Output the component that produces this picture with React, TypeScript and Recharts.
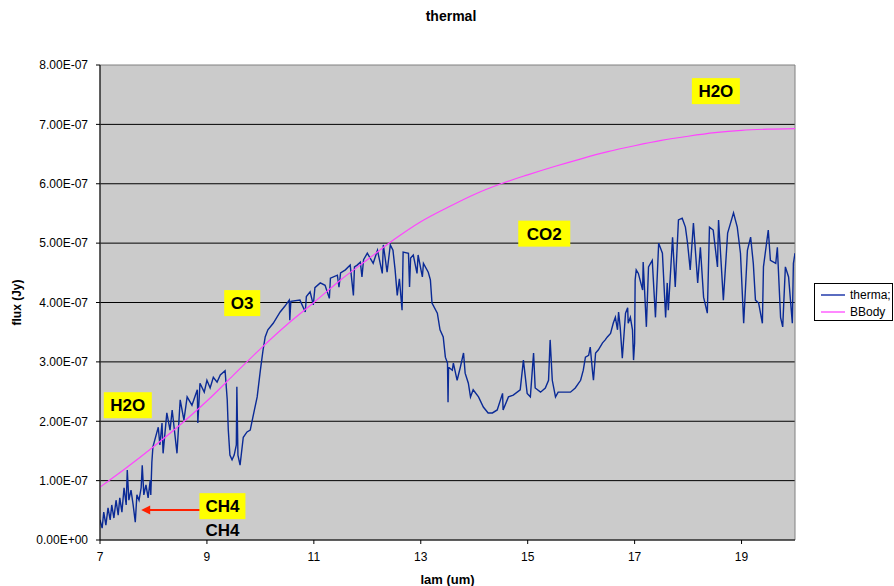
import React from 'react';
import {
  ComposedChart,
  Line,
  XAxis,
  YAxis,
  CartesianGrid,
  ReferenceDot,
  ReferenceArea,
  ReferenceLine,
  Legend,
} from 'recharts';

// flux values are read in units of 1e-7 Jy
const SCALE = 1e-7;

const lamThermal = [
  7.0, 7.04, 7.07, 7.11, 7.15, 7.19, 7.22, 7.26, 7.3, 7.34, 7.37, 7.41, 7.45, 7.49, 7.51, 7.54, 7.58, 7.62, 7.66, 7.69,
  7.73, 7.77, 7.79, 7.82, 7.86, 7.9, 7.94, 7.95, 7.97, 7.99, 8.09, 8.12, 8.16, 8.18, 8.25, 8.31, 8.35, 8.44, 8.5, 8.57,
  8.63, 8.72, 8.82, 8.83, 8.87, 8.95, 9.0, 9.06, 9.12, 9.19, 9.25, 9.34, 9.38, 9.4, 9.43, 9.47, 9.51, 9.55, 9.56, 9.58,
  9.62, 9.68, 9.75, 9.81, 9.86, 9.94, 10.0, 10.05, 10.09, 10.14, 10.24, 10.37, 10.46, 10.54, 10.55, 10.57, 10.74, 10.84,
  10.86, 10.93, 10.99, 11.02, 11.12, 11.21, 11.29, 11.31, 11.44, 11.47, 11.5, 11.59, 11.68, 11.74, 11.76, 11.81, 11.87,
  11.9, 11.93, 12.0, 12.11, 12.19, 12.28, 12.3, 12.37, 12.43, 12.48, 12.52, 12.56, 12.6, 12.65, 12.67, 12.77, 12.79,
  12.81, 12.86, 12.93, 12.95, 13.03, 13.05, 13.14, 13.18, 13.21, 13.31, 13.36, 13.42, 13.46, 13.5, 13.51, 13.52, 13.59,
  13.61, 13.68, 13.74, 13.8, 13.83, 13.89, 13.93, 13.98, 14.08, 14.17, 14.26, 14.34, 14.43, 14.53, 14.54, 14.64, 14.73,
  14.86, 14.92, 14.99, 15.05, 15.11, 15.14, 15.24, 15.33, 15.39, 15.42, 15.46, 15.52, 15.57, 15.67, 15.8, 15.89, 15.99,
  16.04, 16.08, 16.14, 16.17, 16.21, 16.23, 16.27, 16.32, 16.4, 16.45, 16.49, 16.55, 16.6, 16.64, 16.68, 16.7, 16.73,
  16.77, 16.83, 16.87, 16.88, 16.92, 16.96, 16.98, 17.0, 17.01, 17.03, 17.07, 17.15, 17.16, 17.22, 17.26, 17.33, 17.39,
  17.45, 17.52, 17.58, 17.61, 17.63, 17.71, 17.76, 17.82, 17.89, 17.95, 17.99, 18.04, 18.1, 18.18, 18.23, 18.29, 18.36,
  18.4, 18.47, 18.55, 18.57, 18.66, 18.74, 18.85, 18.92, 18.98, 19.04, 19.11, 19.17, 19.22, 19.26, 19.32, 19.39, 19.41,
  19.5, 19.54, 19.64, 19.67, 19.73, 19.77, 19.82, 19.88, 19.95, 19.97, 20.0,
];

const fluxThermal = [
  0.34, 0.2, 0.47, 0.25, 0.54, 0.34, 0.59, 0.37, 0.67, 0.42, 0.71, 0.47, 0.88, 0.59, 1.18, 0.67, 0.84, 0.59, 0.3, 0.76,
  0.67, 0.88, 1.26, 0.76, 0.93, 0.71, 1.01, 0.76, 1.31, 1.57, 1.9, 1.6, 1.97, 1.46, 2.14, 1.85, 2.19, 1.46, 2.36, 2.02,
  2.41, 2.27, 2.53, 1.97, 2.64, 2.49, 2.69, 2.56, 2.74, 2.66, 2.78, 2.85, 2.36, 1.85, 1.43, 1.35, 1.43, 1.6, 2.58, 1.43,
  1.26, 1.73, 1.82, 1.85, 2.07, 2.41, 2.86, 3.2, 3.42, 3.54, 3.65, 3.84, 3.94, 4.04, 3.7, 4.02, 4.04, 3.84,
  4.1, 4.18, 3.96, 4.25, 4.33, 4.29, 4.07, 4.41, 4.46, 4.26, 4.5, 4.55, 4.63, 4.12, 4.6, 4.63, 4.68,
  4.43, 4.72, 4.83, 4.66, 4.88, 4.49, 4.97, 4.51, 4.97, 4.88, 4.55, 4.12, 4.4, 3.87, 4.85, 4.83, 4.26,
  4.75, 4.8, 4.49, 4.8, 4.43, 4.66, 4.51, 4.38, 3.99, 3.82, 3.54, 3.42, 3.08, 2.98, 2.32, 2.91, 2.86,
  2.98, 2.69, 2.91, 3.15, 2.81, 2.64, 2.41, 2.53, 2.41, 2.24, 2.14, 2.14, 2.19, 2.47, 2.19, 2.41, 2.44,
  2.53, 3.03, 2.47, 2.41, 3.15, 2.56, 2.49, 2.56, 2.69, 3.37, 2.69, 2.41, 2.49, 2.49, 2.49, 2.56, 2.69,
  2.86, 3.08, 3.11, 3.25, 2.86, 2.69, 3.15, 3.2, 3.32, 3.37, 3.42, 3.48, 3.65, 3.75, 3.54, 3.84, 3.59,
  3.06, 3.82, 3.91, 3.65, 3.75, 3.54, 3.03, 3.32, 4.38, 4.55, 4.49, 4.21, 4.68, 3.59, 4.6, 4.71, 3.75,
  5.0, 4.83, 3.75, 4.33, 3.87, 5.1, 4.26, 5.39, 5.42, 5.27, 5.0, 4.55, 5.34, 4.33, 4.93, 4.09, 3.82,
  5.27, 5.22, 4.6, 5.39, 4.04, 5.17, 5.51, 5.27, 4.83, 3.65, 4.88, 5.1, 4.66, 4.04, 3.99, 3.65, 4.6,
  5.22, 4.71, 4.66, 4.93, 3.75, 3.59, 4.6, 4.43, 3.65, 4.66, 4.83,
];

const lamBB = [7, 7.5, 8, 8.5, 9, 9.5, 10, 10.5, 11, 11.5, 12, 12.5, 13, 13.5, 14, 14.5, 15, 15.5, 16, 16.5, 17, 17.5, 18, 18.5, 19, 19.5, 20];
const fluxBB = [0.89, 1.22, 1.57, 1.94, 2.34, 2.78, 3.22, 3.63, 4.0, 4.38, 4.72, 5.06, 5.36, 5.6, 5.82, 6.0, 6.15, 6.29, 6.42, 6.54, 6.64, 6.73, 6.8, 6.86, 6.9, 6.92, 6.93];

const xTicks = [7, 9, 11, 13, 15, 17, 19];
const yTickSteps = [0, 1, 2, 3, 4, 5, 6, 7, 8];

const noteText = ['H2O', 'O3', 'CO2', 'H2O', 'CH4'];
const noteLam = [7.52, 9.66, 15.31, 18.52, 9.29];
const noteFlux = [2.27, 3.99, 5.16, 7.56, 0.57];

const seriesNames = ['therma;', 'BBody'];
const BLUE = '#0A2A96';
const PINK = '#FF44FF';
const FONT = 'Arial, "Liberation Sans", sans-serif';

const thermalData = lamThermal.map((x, i) => ({ x, y: fluxThermal[i] * SCALE }));
const bbData = lamBB.map((x, i) => ({ x, y: fluxBB[i] * SCALE }));

const fmtY = (v: number) => {
  if (Math.abs(v) < 1e-20) return '0.00E+00';
  const [m, e] = v.toExponential(2).split('e');
  const sign = e[0] === '-' ? '-' : '+';
  const digits = e.replace(/[+-]/, '').padStart(2, '0');
  return `${m}E${sign}${digits}`;
};

const noteShape = (text: string) => (props: any) => {
  const { cx, cy } = props;
  const w = text.length === 2 ? 36 : text === 'CH4' ? 46 : text === 'CO2' ? 52 : 48;
  return (
    <g>
      <rect x={cx - w / 2} y={cy - 13} width={w} height={26} fill="#FFFF00" />
      <text
        x={cx}
        y={cy + 6}
        textAnchor="middle"
        fontFamily={FONT}
        fontWeight="bold"
        fontSize={17}
        fill="#000"
      >
        {text}
      </text>
    </g>
  );
};

const plainText = (text: string) => (props: any) => {
  const { cx, cy } = props;
  return (
    <text x={cx} y={cy + 6} textAnchor="middle" fontFamily={FONT} fontWeight="bold" fontSize={17} fill="#000">
      {text}
    </text>
  );
};

const arrowHead = (props: any) => {
  const { cx, cy } = props;
  return <polygon points={`${cx},${cy} ${cx + 9},${cy - 4.5} ${cx + 9},${cy + 4.5}`} fill="#FF2000" />;
};

const LegendBox = () => (
  <div
    style={{
      border: '1px solid #000',
      background: '#fff',
      width: 79,
      height: 38,
      boxSizing: 'border-box',
      fontFamily: FONT,
      fontSize: 12,
      color: '#000',
      paddingTop: 2,
    }}
  >
    {seriesNames.map((n, i) => (
      <div key={n} style={{ display: 'flex', alignItems: 'center', height: 17 }}>
        <svg width={30} height={10} style={{ marginLeft: 6 }}>
          <line x1={0} y1={5} x2={24} y2={5} stroke={i === 0 ? '#5A6CC0' : '#FF88FF'} strokeWidth={2} />
        </svg>
        <span style={{ marginLeft: -1 }}>{n}</span>
      </div>
    ))}
  </div>
);

export default function App() {
  return (
    <div style={{ position: 'absolute', left: 0, top: 0, width: 894, height: 586, background: '#fff' }}>
      <div
        style={{
          position: 'absolute',
          left: 0,
          width: 894,
          top: 8,
          textAlign: 'center',
          fontFamily: FONT,
          fontWeight: 'bold',
          fontSize: 14,
          paddingLeft: 4,
        }}
      >
        thermal
      </div>
      <ComposedChart
        width={894}
        height={586}
        margin={{ top: 65, right: 99, bottom: 0, left: 0 }}
        style={{ position: 'absolute', left: 0, top: 0 }}
      >
        <CartesianGrid
          horizontal
          vertical={false}
          stroke="#000"
          fill="#CBCBCB"
          fillOpacity={1}
          horizontalValues={[1, 2, 3, 4, 5, 6, 7].map((v) => v * SCALE)}
        />
        <ReferenceArea x1={7} x2={20} y1={0} y2={8 * SCALE} fill="none" stroke="#808080" strokeWidth={1} />
        <XAxis
          type="number"
          dataKey="x"
          domain={[7, 20]}
          ticks={xTicks}
          allowDataOverflow
          height={46}
          stroke="#000"
          tickSize={4}
          tickMargin={8}
          tick={{ fill: '#000', fontSize: 12, fontFamily: FONT }}
          label={{
            content: (p: any) => {
              const vb = p.viewBox;
              return (
                <text
                  x={vb.x + vb.width / 2}
                  y={vb.y + 44}
                  textAnchor="middle"
                  fontFamily={FONT}
                  fontWeight="bold"
                  fontSize={13}
                  fill="#000"
                >
                  lam (um)
                </text>
              );
            },
          }}
        />
        <YAxis
          type="number"
          dataKey="y"
          domain={[0, 8 * SCALE]}
          ticks={yTickSteps.map((v) => v * SCALE)}
          allowDataOverflow
          width={100}
          stroke="#000"
          tickSize={4}
          tickMargin={8}
          tickFormatter={fmtY}
          tick={{ fill: '#000', fontSize: 12, fontFamily: FONT }}
          label={{
            content: (p: any) => {
              const vb = p.viewBox;
              const cx = vb.x + 21;
              const cy = vb.y + vb.height / 2;
              return (
                <text
                  x={cx}
                  y={cy}
                  transform={`rotate(-90 ${cx} ${cy})`}
                  textAnchor="middle"
                  fontFamily={FONT}
                  fontWeight="bold"
                  fontSize={12}
                  fill="#000"
                >
                  flux (Jy)
                </text>
              );
            },
          }}
        />
        <Line
          data={thermalData}
          dataKey="y"
          name={seriesNames[0]}
          type="linear"
          stroke={BLUE}
          strokeWidth={1.4}
          dot={false}
          isAnimationActive={false}
        />
        <Line
          data={bbData}
          dataKey="y"
          name={seriesNames[1]}
          type="monotone"
          stroke={PINK}
          strokeWidth={1.2}
          dot={false}
          isAnimationActive={false}
        />
        {noteText.map((t, i) => (
          <ReferenceDot
            key={i}
            x={noteLam[i]}
            y={noteFlux[i] * SCALE}
            r={0}
            shape={noteShape(t)}
          />
        ))}
        <ReferenceDot x={9.29} y={0.17 * SCALE} r={0} shape={plainText('CH4')} />
        <ReferenceLine
          segment={[
            { x: 8.87, y: 0.505 * SCALE },
            { x: 7.9, y: 0.505 * SCALE },
          ]}
          stroke="#FF2000"
          strokeWidth={2}
        />
        <ReferenceDot x={7.77} y={0.505 * SCALE} r={0} shape={arrowHead} />
        <Legend
          layout="vertical"
          align="center"
          verticalAlign="middle"
          content={() => <LegendBox />}
          wrapperStyle={{ left: 814, top: 283, width: 80, height: 40 }}
        />
      </ComposedChart>
    </div>
  );
}
